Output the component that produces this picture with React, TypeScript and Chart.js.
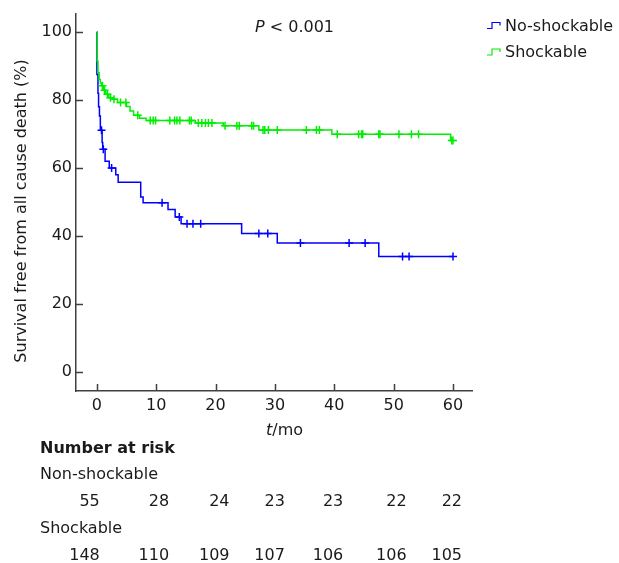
import React, { useEffect, useRef } from 'react';
import { Chart, registerables } from 'chart.js';

Chart.register(...registerables);

// ---- data ----
const xTicks = [0, 10, 20, 30, 40, 50, 60];
const yTicks = [0, 20, 40, 60, 80, 100];

// Non-shockable (blue) Kaplan-Meier steps
const nsTimes = [0, 0.02, 0.2, 0.3, 0.45, 0.6, 0.9, 1.0, 1.4, 2.1, 3.2, 3.6, 7.4, 7.8, 12.0, 13.2, 14.2, 24.4, 30.4, 47.5, 60];
const nsSurv = [100, 87.5, 82, 78, 75.3, 71.1, 67.5, 65.5, 62, 60, 58, 55.8, 51.5, 49.8, 47.8, 45.6, 43.6, 40.7, 37.9, 34.0, 34.0];
const nsCensorTimes = [0.8, 1.1, 2.5, 11.0, 13.9, 15.2, 16.2, 17.5, 27.3, 28.8, 34.3, 42.5, 45.2, 51.5, 52.6, 60.0];
const nsCensorSurv = [71.1, 65.5, 60, 49.8, 45.6, 43.6, 43.6, 43.6, 40.7, 40.7, 37.9, 37.9, 37.9, 34.0, 34.0, 34.0];

// Shockable (green) Kaplan-Meier steps
const shTimes = [0, 0.05, 0.2, 0.4, 0.6, 0.8, 1.1, 1.5, 2.0, 2.6, 3.5, 5.0, 5.6, 6.2, 7.2, 8.3, 16.6, 21.3, 27.3, 39.6, 59.6, 60];
const shSurv = [100, 91.5, 88, 86, 85, 84.2, 82.9, 81.7, 80.7, 80.2, 79.3, 78.1, 76.8, 75.5, 74.6, 74.0, 73.2, 72.4, 71.2, 69.9, 68.1, 68.1];
const shCensorTimes = [0.95, 1.3, 1.8, 2.3, 2.9, 4.0, 4.9, 6.9, 9.0, 9.5, 9.9, 12.3, 13.1, 13.5, 14.0, 15.6, 15.9, 17.1, 17.7, 18.3, 18.8, 19.4, 21.6, 23.6, 24.0, 26.1, 26.4, 28.0, 28.3, 28.9, 30.4, 35.3, 37.0, 37.5, 40.5, 44.1, 44.6, 44.8, 47.5, 47.7, 50.9, 53.0, 54.2, 59.8, 60.0];
const shCensorSurv = [84.2, 82.9, 81.7, 80.7, 80.2, 79.3, 79.3, 75.5, 74.0, 74.0, 74.0, 74.0, 74.0, 74.0, 74.0, 74.0, 74.0, 73.2, 73.2, 73.2, 73.2, 73.2, 72.4, 72.4, 72.4, 72.4, 72.4, 71.2, 71.2, 71.2, 71.2, 71.2, 71.2, 71.2, 69.9, 69.9, 69.9, 69.9, 69.9, 69.9, 69.9, 69.9, 69.9, 68.1, 68.1];

// Number at risk
const riskTimes = [0, 10, 20, 30, 40, 50, 60];
const riskNonShockable = [55, 28, 24, 23, 23, 22, 22];
const riskShockable = [148, 110, 109, 107, 106, 106, 105];

const seriesNames = ['No-shockable', 'Shockable'];
const riskRowNames = ['Non-shockable', 'Shockable'];

// ---- styles / layout ----
const FONT = '"DejaVu Sans", Verdana, sans-serif';
const BLUE = '#0000ff';
const GREEN = '#00ee00';
const AXIS = '#404040';
const TEXT = '#1a1a1a';
const riskRightOffsets = [3, 13, 14, 10, 9, 13, 9];

const toPts = (t: number[], s: number[]) => t.map((v, i) => ({ x: v, y: s[i] }));

const overlayPlugin = {
  id: 'kmOverlay',
  afterDraw(chart: any) {
    const { ctx, chartArea, scales } = chart;
    const xs = scales.x;
    const ys = scales.y;
    ctx.save();
    // inner tick marks
    ctx.strokeStyle = AXIS;
    ctx.lineWidth = 1.5;
    ctx.beginPath();
    yTicks.forEach((v) => {
      const py = Math.round(ys.getPixelForValue(v)) + 0.5;
      ctx.moveTo(chartArea.left, py);
      ctx.lineTo(chartArea.left + 7, py);
    });
    xTicks.forEach((v) => {
      const px = Math.round(xs.getPixelForValue(v)) + 0.5;
      ctx.moveTo(px, chartArea.bottom);
      ctx.lineTo(px, chartArea.bottom - 7);
    });
    ctx.stroke();

    ctx.fillStyle = TEXT;
    ctx.textBaseline = 'alphabetic';

    // y axis title
    ctx.save();
    ctx.translate(26, 211);
    ctx.rotate(-Math.PI / 2);
    ctx.textAlign = 'center';
    ctx.font = `16px ${FONT}`;
    ctx.fillText('Survival free from all cause death (%)', 0, 0);
    ctx.restore();

    // P value
    ctx.textAlign = 'left';
    ctx.font = `italic 16px ${FONT}`;
    ctx.fillText('P', 255, 32);
    const pw = ctx.measureText('P').width;
    ctx.font = `16px ${FONT}`;
    ctx.fillText(' < 0.001', 255 + pw, 32);

    // x axis title
    ctx.font = `italic 16px ${FONT}`;
    ctx.fillText('t', 266, 435);
    const tw = ctx.measureText('t').width;
    ctx.font = `16px ${FONT}`;
    ctx.fillText('/mo', 266 + tw, 435);

    // legend
    const legendColors = [BLUE, GREEN];
    const legendBase = [30.5, 57];
    legendColors.forEach((c, i) => {
      const b = legendBase[i] - 2;
      ctx.strokeStyle = c;
      ctx.lineWidth = 1.2;
      ctx.beginPath();
      ctx.moveTo(487, b);
      ctx.lineTo(492, b);
      ctx.lineTo(492, b - 6);
      ctx.lineTo(500, b - 6);
      ctx.lineTo(500, b - 3);
      ctx.stroke();
      ctx.fillStyle = TEXT;
      ctx.font = `16px ${FONT}`;
      ctx.fillText(seriesNames[i], 505, legendBase[i]);
    });

    // number at risk table
    ctx.textAlign = 'left';
    ctx.font = `bold 16px ${FONT}`;
    ctx.fillText('Number at risk', 40, 452.5);
    ctx.font = `16px ${FONT}`;
    ctx.fillText(riskRowNames[0], 40, 479);
    ctx.fillText(riskRowNames[1], 40, 533);
    ctx.textAlign = 'right';
    riskTimes.forEach((t, i) => {
      const px = xs.getPixelForValue(t) + riskRightOffsets[i];
      ctx.fillText(String(riskNonShockable[i]), px, 506);
      ctx.fillText(String(riskShockable[i]), px, 560);
    });
    ctx.restore();
  },
};

export default function App() {
  const ref = useRef<HTMLCanvasElement | null>(null);
  useEffect(() => {
    if (!ref.current) return;
    const chart = new Chart(ref.current, {
      type: 'line',
      data: {
        datasets: [
          {
            type: 'line',
            label: seriesNames[1],
            data: toPts(shTimes, shSurv),
            borderColor: GREEN,
            borderWidth: 1.5,
            stepped: 'before',
            pointRadius: 0,
            fill: false,
          } as any,
          {
            type: 'scatter',
            label: seriesNames[1] + ' censored',
            data: toPts(shCensorTimes, shCensorSurv),
            borderColor: GREEN,
            backgroundColor: GREEN,
            pointStyle: 'cross',
            pointRadius: 4,
            borderWidth: 1.5,
            showLine: false,
          } as any,
          {
            type: 'line',
            label: seriesNames[0],
            data: toPts(nsTimes, nsSurv),
            borderColor: BLUE,
            borderWidth: 1.5,
            stepped: 'before',
            pointRadius: 0,
            fill: false,
          } as any,
          {
            type: 'scatter',
            label: seriesNames[0] + ' censored',
            data: toPts(nsCensorTimes, nsCensorSurv),
            borderColor: BLUE,
            backgroundColor: BLUE,
            pointStyle: 'cross',
            pointRadius: 4,
            borderWidth: 1.5,
            showLine: false,
          } as any,
        ],
      },
      options: {
        responsive: false,
        animation: false,
        devicePixelRatio: 1,
        clip: false as any,
        layout: { padding: { left: 0, top: 14, right: 147, bottom: 0 } },
        plugins: { legend: { display: false }, tooltip: { enabled: false } },
        scales: {
          x: {
            type: 'linear',
            min: -3.5,
            max: 63.2,
            afterBuildTicks: (s: any) => {
              s.ticks = xTicks.map((v) => ({ value: v }));
            },
            afterFit: (s: any) => {
              s.height = 172;
            },
            grid: { display: false, drawTicks: false },
            border: { display: true, color: AXIS, width: 1.5 },
            ticks: {
              font: { family: FONT, size: 16 },
              color: TEXT,
              padding: 5,
              maxRotation: 0,
              autoSkip: false,
            },
          },
          y: {
            type: 'linear',
            min: -5.6,
            max: 105.3,
            afterBuildTicks: (s: any) => {
              s.ticks = yTicks.map((v) => ({ value: v }));
            },
            afterFit: (s: any) => {
              s.width = 76;
            },
            grid: { display: false, drawTicks: false },
            border: { display: true, color: AXIS, width: 1.5 },
            ticks: {
              font: { family: FONT, size: 16 },
              color: TEXT,
              padding: 4,
              autoSkip: false,
            },
          },
        },
      },
      plugins: [overlayPlugin],
    });
    return () => chart.destroy();
  }, []);
  return (
    <div style={{ position: 'absolute', left: 0, top: 0, width: 619, height: 563, background: '#fff' }}>
      <canvas ref={ref} width={619} height={563} />
    </div>
  );
}
